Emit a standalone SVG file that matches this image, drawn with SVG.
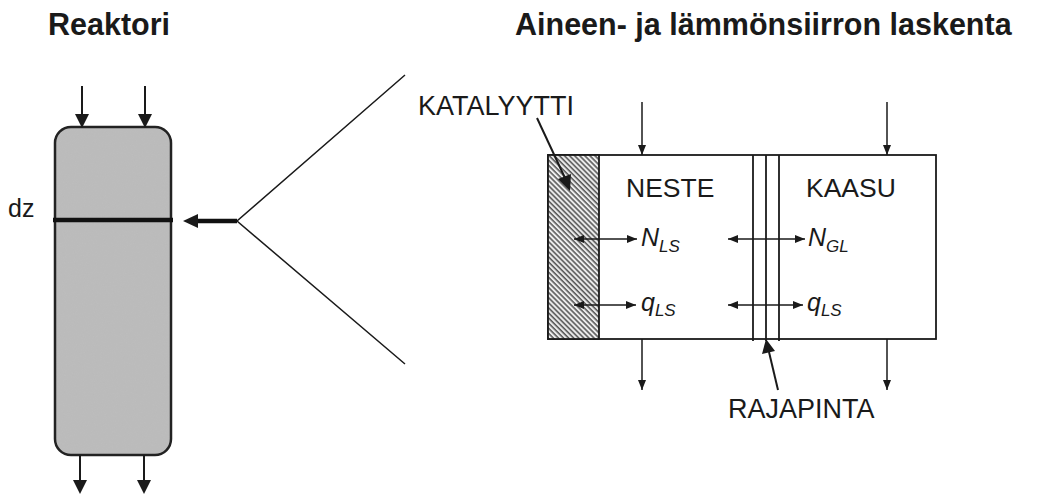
<svg xmlns="http://www.w3.org/2000/svg" width="1040" height="496" viewBox="0 0 1040 496">
<style>
text{font-family:"Liberation Sans",Arial,sans-serif;fill:#1a1a1a}
.title{font-size:30.5px;font-weight:bold}
.lab{font-size:26.5px}
.sym{font-size:25px;font-style:italic}
.sub{font-size:17px;font-style:italic}
.ln{stroke:#1a1a1a;stroke-width:1.5;fill:none}
.ah{fill:#1a1a1a}
</style>
<defs>
<marker id="sm" viewBox="0 0 10 8" refX="10" refY="4" markerWidth="10" markerHeight="8" markerUnits="userSpaceOnUse" orient="auto-start-reverse">
<path d="M0,0 L10,4 L0,8 Z" class="ah"/>
</marker>
<pattern id="hatch" patternUnits="userSpaceOnUse" width="3.6" height="3.6" patternTransform="rotate(-45)">
<rect width="3.6" height="3.6" fill="#ececec"/>
<line x1="1" y1="0" x2="1" y2="3.6" stroke="#3a3a3a" stroke-width="1.3"/>
</pattern>
<filter id="grain" x="0" y="0" width="100%" height="100%">
<feTurbulence type="fractalNoise" baseFrequency="0.9" numOctaves="2" seed="3" result="n"/>
<feColorMatrix in="n" type="matrix" values="0 0 0 0 0.45  0 0 0 0 0.45  0 0 0 0 0.45  0 0 0 0.35 0" result="g"/>
<feComposite in="g" in2="SourceGraphic" operator="in" result="gc"/>
<feMerge><feMergeNode in="SourceGraphic"/><feMergeNode in="gc"/></feMerge>
</filter>
</defs>

<g id="titles">
<text class="title" x="48" y="35">Reaktori</text>
<text class="title" x="515" y="35">Aineen- ja lämmönsiirron laskenta</text>
</g>

<g id="reactor">
<rect x="55" y="127" width="116" height="328" rx="16" fill="#bdbdbd" filter="url(#grain)"/>
<rect x="55" y="127" width="116" height="328" rx="16" fill="none" stroke="#222" stroke-width="2.5"/>
<line x1="53" y1="220" x2="173" y2="220" stroke="#111" stroke-width="4.5"/>
<text class="lab" x="8" y="217" style="font-size:25px">dz</text>
</g>

<g id="box">
<rect x="548" y="155" width="388" height="184" fill="#fff" stroke="#1a1a1a" stroke-width="1.8"/>
<rect id="katalyytti" x="548" y="155" width="51" height="184" fill="url(#hatch)" stroke="#1a1a1a" stroke-width="1.8"/>
<g id="rajapinta-lines" stroke="#1a1a1a" stroke-width="1.8">
<line x1="753" y1="155" x2="753" y2="341"/>
<line x1="766" y1="155" x2="766" y2="341"/>
<line x1="779" y1="155" x2="779" y2="341"/>
</g>
<text class="lab" x="626" y="197">NESTE</text>
<text class="lab" x="806" y="197">KAASU</text>
<text class="sym" x="641" y="246">N<tspan class="sub" dy="6">LS</tspan></text>
<text class="sym" x="808" y="246">N<tspan class="sub" dy="6">GL</tspan></text>
<text class="sym" x="641" y="311">q<tspan class="sub" dy="5">LS</tspan></text>
<text class="sym" x="807" y="311">q<tspan class="sub" dy="5">LS</tspan></text>
</g>

<g id="labels">
<text class="lab" x="418" y="115" style="font-size:27px">KATALYYTTI</text>
<text class="lab" x="728" y="418" style="font-size:27px">RAJAPINTA</text>
</g>

<g id="connectors">
<line x1="82" y1="86" x2="82" y2="116" stroke="#1a1a1a" stroke-width="2"/>
<path d="M75,114 L89,114 L82,128 Z" class="ah"/>
<line x1="145" y1="86" x2="145" y2="116" stroke="#1a1a1a" stroke-width="2"/>
<path d="M138,114 L152,114 L145,128 Z" class="ah"/>
<line x1="80" y1="455" x2="80" y2="482" stroke="#1a1a1a" stroke-width="2"/>
<path d="M73,480 L87,480 L80,494 Z" class="ah"/>
<line x1="144" y1="455" x2="144" y2="482" stroke="#1a1a1a" stroke-width="2"/>
<path d="M137,480 L151,480 L144,494 Z" class="ah"/>
<polyline points="405,75 237,221 405,364" class="ln"/>
<line x1="237" y1="221" x2="196" y2="221" stroke="#111" stroke-width="4.5"/>
<path d="M198,214 L198,228 L183,221 Z" class="ah"/>
<line x1="642" y1="102" x2="642" y2="155" class="ln" marker-end="url(#sm)"/>
<line x1="887" y1="102" x2="887" y2="155" class="ln" marker-end="url(#sm)"/>
<line x1="642" y1="339" x2="642" y2="390" class="ln" marker-end="url(#sm)"/>
<line x1="887" y1="339" x2="887" y2="390" class="ln" marker-end="url(#sm)"/>
<line x1="574" y1="239" x2="637" y2="239" class="ln" marker-start="url(#sm)" marker-end="url(#sm)"/>
<line x1="728" y1="239" x2="805" y2="239" class="ln" marker-start="url(#sm)" marker-end="url(#sm)"/>
<line x1="574" y1="305" x2="636" y2="305" class="ln" marker-start="url(#sm)" marker-end="url(#sm)"/>
<line x1="728" y1="305" x2="803" y2="305" class="ln" marker-start="url(#sm)" marker-end="url(#sm)"/>
<line x1="537" y1="118" x2="565" y2="178" stroke="#1a1a1a" stroke-width="2"/>
<path d="M558,179 L571,174 L570,191 Z" class="ah"/>
<line x1="778" y1="390" x2="769" y2="352" stroke="#1a1a1a" stroke-width="2"/>
<path d="M762,354 L775,351 L766,339 Z" class="ah"/>
</g>
</svg>
